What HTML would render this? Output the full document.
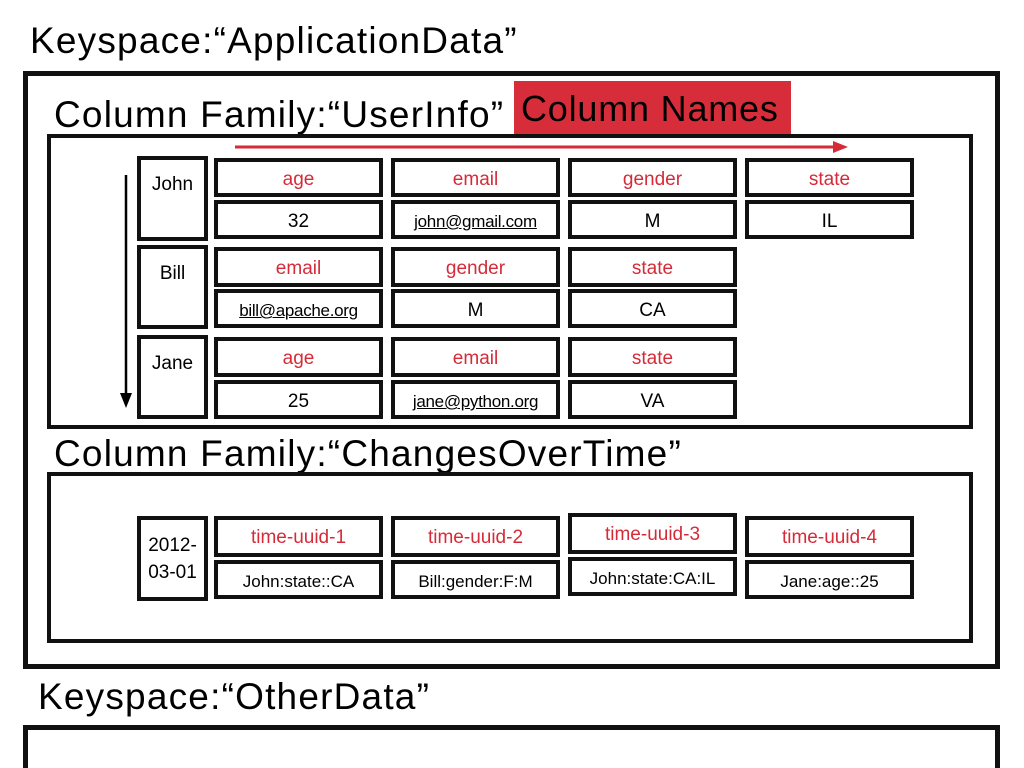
<!DOCTYPE html>
<html><head><meta charset="utf-8"><style>
html,body{margin:0;width:1024px;height:768px;overflow:hidden;}
body{background:#fff;position:relative;font-family:"Liberation Sans",sans-serif;}
.b{position:absolute;border:4px solid #111;box-sizing:border-box;}
.c{position:absolute;border:4px solid #111;box-sizing:border-box;text-align:center;font-size:19px;line-height:36px;color:#000;}
.r{color:#d52b38;}
.u{text-decoration:underline;font-size:17px;letter-spacing:-0.3px;}
.t{position:absolute;font-size:37px;color:#000;white-space:nowrap;letter-spacing:1.2px;}
.k{position:absolute;border:4px solid #111;box-sizing:border-box;font-size:19px;text-align:center;}
</style></head><body>
<div class="t" style="left:30px;top:20px;">Keyspace:“ApplicationData”</div>
<div class="b" style="left:23px;top:71px;width:977px;height:598px;border-width:5px;"></div>
<div class="t" style="left:54px;top:94px;">Column Family:“UserInfo”</div>
<div style="position:absolute;left:514px;top:81px;width:277px;height:56px;background:#d72d3a;font-size:36px;line-height:56px;text-indent:7px;white-space:nowrap;letter-spacing:0.8px;">Column Names</div>
<div class="b" style="left:47px;top:134px;width:926px;height:295px;"></div>
<svg style="position:absolute;left:0;top:0" width="1024" height="768">
<line x1="235" y1="147" x2="835" y2="147" stroke="#d52b38" stroke-width="3"/>
<polygon points="833,141 848,147 833,153" fill="#d52b38"/>
<line x1="126" y1="175" x2="126" y2="395" stroke="#000" stroke-width="2.5"/>
<polygon points="120,393 126,408 132,393" fill="#000"/>
</svg>
<div class="k" style="left:137px;top:156px;width:71px;height:85px;line-height:50px;">John</div>
<div class="k" style="left:137px;top:245px;width:71px;height:84px;line-height:50px;">Bill</div>
<div class="k" style="left:137px;top:335px;width:71px;height:84px;line-height:50px;">Jane</div>

<div class="c r" style="left:214px;top:158px;width:169px;height:39px;">age</div>
<div class="c" style="left:214px;top:200px;width:169px;height:39px;">32</div>
<div class="c r" style="left:391px;top:158px;width:169px;height:39px;">email</div>
<div class="c u" style="left:391px;top:200px;width:169px;height:39px;">john@gmail.com</div>
<div class="c r" style="left:568px;top:158px;width:169px;height:39px;">gender</div>
<div class="c" style="left:568px;top:200px;width:169px;height:39px;">M</div>
<div class="c r" style="left:745px;top:158px;width:169px;height:39px;">state</div>
<div class="c" style="left:745px;top:200px;width:169px;height:39px;">IL</div>

<div class="c r" style="left:214px;top:247px;width:169px;height:40px;">email</div>
<div class="c u" style="left:214px;top:289px;width:169px;height:39px;">bill@apache.org</div>
<div class="c r" style="left:391px;top:247px;width:169px;height:40px;">gender</div>
<div class="c" style="left:391px;top:289px;width:169px;height:39px;">M</div>
<div class="c r" style="left:568px;top:247px;width:169px;height:40px;">state</div>
<div class="c" style="left:568px;top:289px;width:169px;height:39px;">CA</div>

<div class="c r" style="left:214px;top:337px;width:169px;height:40px;">age</div>
<div class="c" style="left:214px;top:380px;width:169px;height:39px;">25</div>
<div class="c r" style="left:391px;top:337px;width:169px;height:40px;">email</div>
<div class="c u" style="left:391px;top:380px;width:169px;height:39px;">jane@python.org</div>
<div class="c r" style="left:568px;top:337px;width:169px;height:40px;">state</div>
<div class="c" style="left:568px;top:380px;width:169px;height:39px;">VA</div>

<div class="t" style="left:54px;top:433px;">Column Family:“ChangesOverTime”</div>
<div class="b" style="left:47px;top:472px;width:926px;height:171px;"></div>
<div class="k" style="left:137px;top:516px;width:71px;height:85px;line-height:27px;padding-top:12px;">2012-<br>03-01</div>
<div class="c r" style="left:214px;top:516px;width:169px;height:41px;">time-uuid-1</div>
<div class="c" style="left:214px;top:560px;width:169px;height:39px;font-size:17px;">John:state::CA</div>
<div class="c r" style="left:391px;top:516px;width:169px;height:41px;">time-uuid-2</div>
<div class="c" style="left:391px;top:560px;width:169px;height:39px;font-size:17px;">Bill:gender:F:M</div>
<div class="c r" style="left:568px;top:513px;width:169px;height:41px;">time-uuid-3</div>
<div class="c" style="left:568px;top:557px;width:169px;height:39px;font-size:17px;">John:state:CA:IL</div>
<div class="c r" style="left:745px;top:516px;width:169px;height:41px;">time-uuid-4</div>
<div class="c" style="left:745px;top:560px;width:169px;height:39px;font-size:17px;">Jane:age::25</div>

<div class="t" style="left:38px;top:676px;">Keyspace:“OtherData”</div>
<div class="b" style="left:23px;top:725px;width:977px;height:60px;border-width:5px;"></div>
</body></html>
